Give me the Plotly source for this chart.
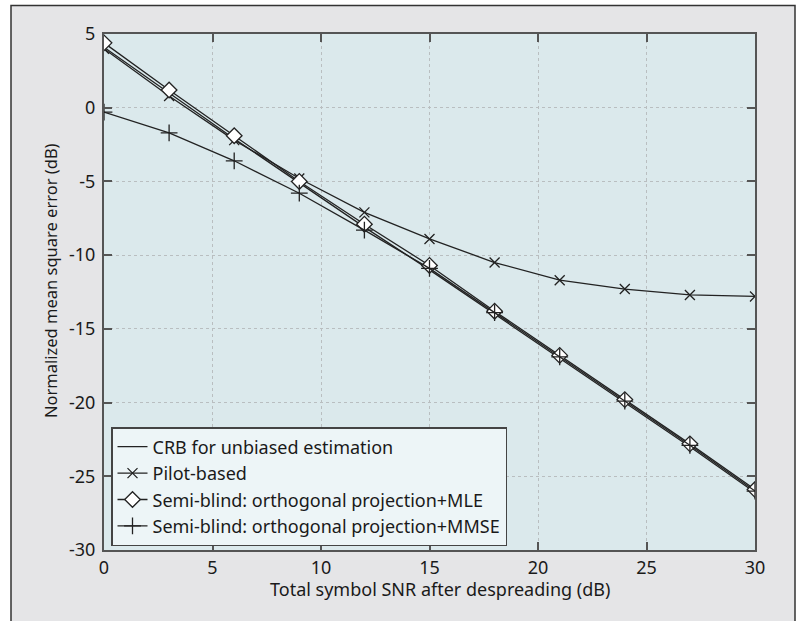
import plotly.graph_objects as go

snr = [0, 3, 6, 9, 12, 15, 18, 21, 24, 27, 30]
crb = [4.1, 1.0, -2.1, -5.1, -8.1, -11.0, -14.0, -17.0, -20.0, -23.0, -26.1]
pilot = [4.0, 0.8, -2.2, -4.8, -7.1, -8.9, -10.5, -11.7, -12.3, -12.7, -12.8]
mle = [4.4, 1.2, -1.9, -5.0, -7.9, -10.7, -13.8, -16.8, -19.8, -22.8, -25.9]
mmse = [-0.3, -1.7, -3.6, -5.8, -8.3, -10.9, -13.9, -16.9, -19.9, -22.9, -26.0]

names = ["CRB for unbiased estimation", "Pilot-based",
         "Semi-blind: orthogonal projection+MLE",
         "Semi-blind: orthogonal projection+MMSE"]

xticks = [0, 5, 10, 15, 20, 25, 30]
yticks = [5, 0, -5, -10, -15, -20, -25, -30]

FONT = "Noto Sans"
LC = "#222222"
TC = "#1a1a1a"

fig = go.Figure()
fig.add_trace(go.Scatter(x=snr, y=crb, mode="lines", name=names[0],
                         line=dict(color=LC, width=1.3)))
fig.add_trace(go.Scatter(x=snr, y=pilot, mode="lines+markers", name=names[1],
                         line=dict(color=LC, width=1.3),
                         marker=dict(symbol="x-thin-open", size=10,
                                     line=dict(color=LC, width=1.3))))
fig.add_trace(go.Scatter(x=snr, y=mle, mode="lines+markers", name=names[2],
                         line=dict(color=LC, width=1.3),
                         marker=dict(symbol="diamond", size=12, color="white",
                                     line=dict(color=LC, width=1.3))))
fig.add_trace(go.Scatter(x=snr, y=mmse, mode="lines+markers", name=names[3],
                         line=dict(color=LC, width=1.3),
                         marker=dict(symbol="cross-thin-open", size=12,
                                     line=dict(color=LC, width=1.3))))

W, H = 803, 621
# plot area in page pixels: left 104, right 755, top 34, bottom 550
L, T = 104, 34
R = W - 755
B = H - 550
pw, ph = W - L - R, H - T - B

def px(xp):
    return (xp - L) / pw

def py(yp):
    return (H - B - yp) / ph

axis_common = dict(showline=True, linecolor="#555555", linewidth=2, mirror="ticks",
                   ticks="inside", ticklen=8, tickcolor="#555555", tickwidth=1.5,
                   showgrid=True, gridcolor="#b9bec0", griddash="dot", gridwidth=1,
                   zeroline=False, tickfont=dict(family=FONT, size=18, color=TC))

fig.update_xaxes(range=[0, 30], tickvals=xticks, ticktext=[str(v) for v in xticks],
                 **axis_common)
fig.update_yaxes(range=[-30, 5], tickvals=yticks, ticktext=[str(v) for v in yticks],
                 ticklabelstandoff=3, **axis_common)

fig.update_layout(
    width=W, height=H,
    margin=dict(l=L, r=R, t=T, b=B, pad=0),
    paper_bgcolor="white",
    plot_bgcolor="#dbe9ec",
    showlegend=True,
    legend=dict(x=px(111), y=py(546), xanchor="left", yanchor="bottom",
                bgcolor="#edf5f7", bordercolor="#444444", borderwidth=1.5,
                font=dict(family=FONT, size=18, color=TC),
                tracegroupgap=0, itemwidth=30),
    shapes=[
        dict(type="rect", xref="paper", yref="paper", layer="below",
             x0=px(11), x1=px(795), y0=py(640), y1=py(5.5),
             fillcolor="#e5e5e7", line=dict(color="#333333", width=1.5)),
        dict(type="rect", xref="paper", yref="paper", layer="below",
             x0=0, x1=1, y0=0, y1=1, fillcolor="#dbe9ec", line=dict(width=0)),
    ],
    annotations=[
        dict(text="Total symbol SNR after despreading (dB)", xref="paper", yref="paper",
             x=px(440), y=py(589), xanchor="center", yanchor="middle", showarrow=False,
             font=dict(family=FONT, size=18, color=TC)),
        dict(text="Normalized mean square error (dB)", xref="paper", yref="paper",
             x=px(50), y=py(281), xanchor="center", yanchor="middle", showarrow=False,
             textangle=-90, font=dict(family=FONT, size=16.5, color=TC)),
    ],
)

fig.write_html("out.html", config={"displayModeBar": False},
               post_script="document.body.style.margin='0';document.body.style.overflow='hidden';")
